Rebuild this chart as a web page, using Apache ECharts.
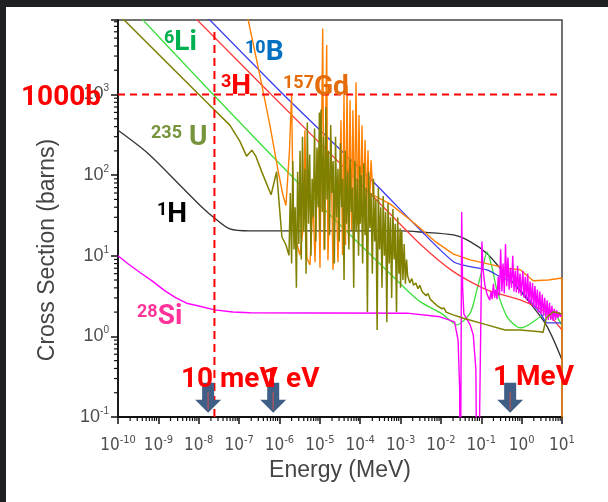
<!DOCTYPE html>
<html><head><meta charset="utf-8">
<script src="https://cdn.jsdelivr.net/npm/echarts@6/dist/echarts.min.js"></script>
<style>html,body{margin:0;padding:0;background:#fff;}#c{width:608px;height:502px;}</style>
</head><body><div id="c"></div>
<script>
// ---------- axis ranges / ticks ----------
const xMin = 1e-10, xMax = 10, yMin = 0.1, yMax = 8400;
const xDecades = [-10, -9, -8, -7, -6, -5, -4, -3, -2, -1, 0];
const yDecades = [-1, 0, 1, 2, 3];
const minorMultipliers = [2, 3, 4, 5, 6, 7, 8, 9];

// ---------- cross-section curves [Energy (MeV), sigma (barns)] ----------
const h1 = [[1e-10,361],[5.55e-10,186],[3.74e-9,71.8],[1.17e-8,40.6],[2.5e-8,29.1],[5.9e-8,21.5],[1.85e-7,20.3],[1e-3,20.3],[3.05e-3,19.7],[0.0205,18.1],[0.053,15],[0.138,10.7],[0.294,7.0],[0.63,4.56],[1.63,2.58],[4.25,1.33],[10,0.51]];

const li6 = [[1e-10,18000],[2.28e-8,1000],[8.4e-6,46.8],[1.43e-3,3.77],[3.05e-3,2.70],[0.0116,1.85],[0.0248,1.39],[0.053,1.94],[0.0778,3.77],[0.115,8.07],[0.138,11.2],[0.183,7.3],[0.244,3.77],[0.431,1.76],[0.764,1.32],[1.02,1.28],[3.19,1.8],[5.65,2.02],[10,1.35]];

const h3 = [[1e-9,25700],[6.25e-7,1000],[2.12e-4,54],[3.05e-3,14],[0.0205,6.35],[0.138,3.77],[0.92,2.84],[4.25,1.94],[10,1.2]];

const b10 = [[1e-9,37800],[1.25e-6,1000],[1.75e-4,91],[3.05e-3,21],[0.0205,8.45],[0.053,7.33],[0.138,6.67],[0.294,5.5],[0.62,4.6],[2.9,1.96],[4.3,1.47],[10,1.47]];

const gd157 = [[1e-10,3e5],[7.6e-8,61000],[1.68e-7,8400],[3.27e-7,1730],[5.8e-7,416],[9.2e-7,115],[1.22e-6,56.6],[1.45e-6,42],[1.77e-6,204],[2.0e-6,1000],[2.16e-6,49],[2.56e-6,15.7],[3.21e-6,10.2],[3.82e-6,20.8],[4.28e-6,361],[4.8e-6,9.3],[5.7e-6,7.7],[6.8e-6,49],[7.6e-6,8.3],[9.0e-6,204],[1.01e-5,7.1],[1.18e-5,6600],[1.27e-5,11.7],[1.48e-5,4100],[1.59e-5,8.8],[1.89e-5,272],[2.12e-5,6.7],[2.52e-5,87],[2.82e-5,8.3],[3.35e-5,480],[3.65e-5,10.2],[3.97e-5,1000],[4.33e-5,13.6],[4.72e-5,1300],[5.14e-5,15.7],[5.6e-5,850],[6.1e-5,20.8],[6.6e-5,640],[7.2e-5,27.7],[7.9e-5,1420],[8.6e-5,24],[9.35e-5,555],[1.02e-4,27.7],[1.11e-4,417],[1.21e-4,32],[1.32e-4,272],[1.44e-4,35],[1.56e-4,204],[1.70e-4,39],[1.86e-4,153],[2.08e-4,56.6],[2.33e-4,58],[5.5e-4,44],[1.72e-3,28],[3.05e-3,22],[7e-3,15.2],[0.0205,10.5],[0.053,8.9],[0.138,8.0],[0.39,7.07],[0.92,6.7],[1.94,4.9],[4.57,5.0],[10,5.3],[10,0.001]];

const u235 = [[1e-10,10000],[2.07e-8,701],[5.9e-8,417],[1.04e-7,264],[1.53e-7,172],[2.07e-7,204],[2.6e-7,172],[3.67e-7,109],[6.2e-7,57],[8.5e-7,110],[9.7e-7,48.7],[1.15e-6,17.1],[1.45e-6,13.6],[1.72e-6,10.1],
 [1.86e-6,60],[2.00e-6,8],[2.14e-6,150],[2.29e-6,12],[2.45e-6,40],[2.63e-6,4],[2.82e-6,110],[3.02e-6,14],[3.24e-6,200],[3.47e-6,9],[3.72e-6,300],[3.98e-6,20],[4.27e-6,120],[4.57e-6,6],[4.90e-6,450],[5.25e-6,25],[5.62e-6,180],[6.03e-6,10],[6.46e-6,90],[6.92e-6,30],[7.41e-6,380],[7.94e-6,15],[8.51e-6,220],[9.12e-6,40],[9.77e-6,600],
 [1.00e-5,20],[1.07e-5,650],[1.15e-5,35],[1.23e-5,300],[1.32e-5,12],[1.41e-5,700],[1.51e-5,50],[1.62e-5,200],[1.74e-5,18],[1.86e-5,420],[2.00e-5,60],[2.14e-5,150],[2.29e-5,8],[2.45e-5,300],[2.63e-5,30],[2.82e-5,120],[3.02e-5,15],[3.24e-5,250],[3.47e-5,40],[3.72e-5,90],[3.98e-5,5],[4.27e-5,200],[4.57e-5,25],[4.90e-5,110],[5.25e-5,12],[5.62e-5,160],[6.03e-5,35],[6.46e-5,70],[6.92e-5,4],[7.41e-5,150],[7.94e-5,20],[8.51e-5,90],[9.12e-5,10],[9.77e-5,130],
 [1.00e-4,25],[1.07e-4,100],[1.15e-4,8],[1.23e-4,140],[1.32e-4,18],[1.41e-4,70],[1.51e-4,2],[1.62e-4,110],[1.74e-4,22],[1.86e-4,60],[2.00e-4,6],[2.14e-4,90],[2.29e-4,15],[2.45e-4,50],[2.63e-4,1.2],[2.82e-4,70],[3.02e-4,12],[3.24e-4,40],[3.47e-4,4],[3.72e-4,55],[3.98e-4,10],[4.27e-4,35],[4.57e-4,1.5],[4.90e-4,45],[5.25e-4,8],[5.62e-4,30],[6.03e-4,3],[6.46e-4,38],[6.92e-4,9],[7.41e-4,25],[7.94e-4,2],[8.51e-4,30],[9.12e-4,6],[9.77e-4,22],
 [1.00e-3,4],[1.07e-3,20],[1.15e-3,5],[1.23e-3,14],[1.32e-3,4.5],[1.41e-3,9],
 [1.5e-3,5.6],[1.7e-3,4.6],[1.9e-3,5.2],[2.1e-3,4.3],[2.4e-3,4.6],[2.7e-3,3.9],[3.0e-3,4.3],[3.4e-3,3.6],[3.8e-3,3.8],[4.3e-3,3.2],[4.8e-3,3.4],[5.4e-3,2.9],[6.0e-3,3.0],[6.8e-3,2.6],[7.6e-3,2.7],[8.5e-3,2.35],[9.5e-3,2.45],[0.0107,2.2],[0.012,2.25],[0.0135,2.0],[0.015,2.05],[0.02,1.85],
 [0.0362,1.68],[0.138,1.39],[0.39,1.2],[0.92,1.2],[2.9,1.14],[3.4,1.12],[4.08,1.7],[6.1,2.02],[10,1.9]];

const si28 = [[1e-10,10],[1.8e-10,7.9],[3.5e-10,6.2],[7.4e-10,4.78],[1.4e-9,3.72],[2.6e-9,3.05],[5e-9,2.58],[1e-8,2.38],[2.5e-8,2.13],[7e-8,2.01],[1.85e-7,1.96],[1.45e-3,1.94],[9.5e-3,1.75],[0.0218,1.51],[0.0266,0.9],[0.0292,0.22],[0.0300,0.001],[0.0327,35],[0.0345,4.0],[0.037,1.9],[0.053,1.39],[0.0634,1.04],[0.0735,0.39],[0.0805,0.001],[0.1035,15],[0.111,6.67],[0.123,4.3],[0.140,3.3],
 [0.151,3.2],[0.162,2.8],[0.174,3.6],[0.186,2.9],[0.200,4.5],[0.214,3.0],[0.229,3.8],[0.245,2.9],[0.263,5.5],[0.282,3.2],[0.302,12],[0.324,3.6],[0.347,8],[0.372,3.4],[0.398,14],[0.427,4.2],[0.457,9.5],[0.490,3.8],[0.525,7],[0.562,4],[0.603,10],[0.646,3.6],[0.692,6.5],[0.741,3.5],[0.794,7.5],[0.851,3.4],[0.912,6],[0.977,3.2],
 [1.07,6.5],[1.15,3.0],[1.23,5.5],[1.32,2.8],[1.41,6.0],[1.51,2.6],[1.62,4.8],[1.74,2.5],[1.86,4.6],[2.00,2.3],[2.14,4.2],[2.29,2.2],[2.45,3.8],[2.63,2.0],[2.82,3.6],[3.02,1.9],[3.24,3.3],[3.47,1.8],[3.72,3.0],[3.98,1.7],[4.27,2.8],[4.57,1.6],[4.90,2.6],[5.25,1.6],[5.62,2.4],[6.03,1.55],[6.46,2.2],[6.92,1.6],[7.41,2.1],[7.94,1.7],[8.51,2.0],[9.12,1.75],[9.77,1.9]];

// ---------- annotations ----------
const refSigma = 1000;            // "1000b" horizontal line
const thermalEnergy = 2.45e-8;    // vertical dashed line (MeV)
const thermalTop = 6600;
const arrowEnergies = [1.71e-8, 7.0e-7, 0.52];
const arrowSigma = 0.173;
const arrowMarkSigma = 0.159;

// ---------- helpers ----------
const xMinorTicks = [];
xDecades.forEach(d => minorMultipliers.forEach(m => { const v = m * Math.pow(10, d); if (v < xMax) xMinorTicks.push([v, yMin]); }));
const yMinorTicks = [];
yDecades.forEach(d => minorMultipliers.forEach(m => { const v = m * Math.pow(10, d); if (v < yMax) yMinorTicks.push([xMin, v]); }));

function expFormatter(v) {
  const l = Math.log10(v), e = Math.round(l);
  if (Math.abs(l - e) > 1e-6) return '';
  return '{b|10}{s|' + e + '}';
}
const narrow = '"Liberation Sans Narrow","DejaVu Sans Condensed","Liberation Sans",sans-serif';
const sansF = '"Liberation Sans",Arial,sans-serif';
const labelFont = 'Roboto,"Liberation Sans",sans-serif';

function line(name, data, color, width, opts) {
  return Object.assign({
    type: 'line', name, data, showSymbol: false, symbol: 'none', silent: true,
    lineStyle: { color, width }, clip: true, z: 2
  }, opts || {});
}

function isoLabel(sup, main, color, x, baseline, F, FS) {
  F = F || 28; FS = FS || 18;
  return {
    type: 'text', x: x, y: baseline - 0.842 * F, z: 100, silent: true,
    style: {
      text: '{s|' + sup + '}{m|' + main + '}', align: 'left', verticalAlign: 'top',
      rich: {
        s: { fontSize: FS, fontWeight: 'bold', fontFamily: labelFont, fill: color, lineHeight: FS, verticalAlign: 'top' },
        m: { fontSize: F, fontWeight: 'bold', fontFamily: labelFont, fill: color, lineHeight: F }
      }
    }
  };
}
function redText(txt, x, baseline, F) {
  F = F || 28;
  return {
    type: 'text', x: x, y: baseline - 0.842 * F, z: 100, silent: true,
    style: { text: txt, align: 'left', verticalAlign: 'top', fontSize: F, lineHeight: F, fontWeight: 'bold', fontFamily: labelFont, fill: '#ff0000' }
  };
}

const chart = echarts.init(document.getElementById('c'), null, { renderer: 'canvas' });
chart.setOption({
  animation: false,
  backgroundColor: '#ffffff',
  grid: { left: 118, right: 46, top: 20, bottom: 85, show: true, borderColor: '#444', borderWidth: 1.5, backgroundColor: 'transparent' },
  xAxis: {
    type: 'log', logBase: 10, min: xMin, max: xMax, interval: 1,
    name: 'Energy (MeV)', nameLocation: 'middle', nameGap: 42,
    nameTextStyle: { fontSize: 23, color: '#444', fontFamily: sansF },
    axisLine: { show: true, onZero: false, lineStyle: { color: '#111', width: 2 } },
    axisTick: { show: true, inside: false, length: 7, lineStyle: { color: '#111', width: 1.5 } },
    minorTick: { show: false },
    splitLine: { show: false },
    axisLabel: {
      margin: 18, formatter: expFormatter, showMaxLabel: true, showMinLabel: true,
      rich: {
        b: { fontSize: 17, lineHeight: 22, fontFamily: narrow, color: '#4d4d4d' },
        s: { fontSize: 11, lineHeight: 11, fontFamily: narrow, color: '#4d4d4d', verticalAlign: 'top' }
      }
    }
  },
  yAxis: {
    type: 'log', logBase: 10, min: yMin, max: yMax, interval: 1,
    axisLine: { show: true, onZero: false, lineStyle: { color: '#111', width: 1.8 } },
    axisTick: { show: true, inside: false, length: 7, lineStyle: { color: '#111', width: 1.5 } },
    minorTick: { show: false },
    splitLine: { show: false },
    axisLabel: {
      margin: 9, formatter: expFormatter,
      rich: {
        b: { fontSize: 18, lineHeight: 22, fontFamily: sansF, color: '#4d4d4d' },
        s: { fontSize: 10, lineHeight: 10, fontFamily: sansF, color: '#4d4d4d', verticalAlign: 'top' }
      }
    }
  },
  graphic: [
    { type: 'rect', shape: { x: 0, y: 0, width: 608, height: 7 }, style: { fill: '#1e2023' }, z: 200, silent: true },
    { type: 'rect', shape: { x: 0, y: 0, width: 6, height: 502 }, style: { fill: '#1e2023' }, z: 200, silent: true },
    { type: 'text', x: 48, y: 250, rotation: Math.PI / 2, silent: true,
      style: { text: 'Cross Section (barns)', align: 'center', verticalAlign: 'middle', fontSize: 23, fontFamily: sansF, fill: '#444' } },
    isoLabel('6', 'Li', '#00b050', 164, 53),
    isoLabel('10', 'B', '#0070c0', 245, 63),
    isoLabel('3', 'H', '#ff0000', 221, 97),
    isoLabel('157', 'Gd', '#e46c0a', 283, 98),
    isoLabel('235', ' U', '#77933c', 151, 148),
    isoLabel('1', 'H', '#000000', 157, 225),
    isoLabel('28', 'Si', '#ff3399', 137, 327),
    redText('1000b', 21, 108),
    redText('10 meV', 181, 390),
    redText('1 eV', 263, 390),
    redText('1 MeV', 493, 388)
  ],
  series: [
    line('1H', h1, '#333333', 1.3, { smooth: 0.3 }),
    line('6Li', li6, '#3be03b', 1.3, { smooth: 0.25 }),
    line('3He', h3, '#ff3b3b', 1.3, { smooth: 0.25 }),
    line('10B', b10, '#3a3af2', 1.3, { smooth: 0.25 }),
    line('157Gd', gd157, '#ff8000', 1.4),
    line('28Si', si28, '#ff00ff', 1.4),
    line('235U', u235, '#808000', 1.5),
    line('ref1000', [[xMin, refSigma], [xMax, refSigma]], '#ff0000', 2, { lineStyle: { color: '#ff0000', width: 2, type: [7, 5] }, z: 5 }),
    line('thermal', [[thermalEnergy, yMin], [thermalEnergy, thermalTop]], '#ff0000', 2, { lineStyle: { color: '#ff0000', width: 2, type: [8, 5] }, z: 5 }),
    { type: 'scatter', silent: true, z: 20, data: arrowEnergies.map(e => [e, arrowSigma]),
      symbol: 'path://M7,0 L19,0 L19,17 L26,17 L13,30 L0,17 L7,17 Z', symbolSize: [26, 30],
      itemStyle: { color: '#3f5f86', opacity: 1 } },
    { type: 'scatter', silent: true, z: 21, data: arrowEnergies.map(e => [e, arrowMarkSigma]),
      symbol: 'rect', symbolSize: [1.3, 18], itemStyle: { color: '#d05050' } },
    { type: 'custom', silent: true, clip: false, z: 10, data: xMinorTicks,
      renderItem: (p, api) => { const c = api.coord([api.value(0), api.value(1)]);
        return { type: 'line', shape: { x1: c[0], y1: c[1], x2: c[0], y2: c[1] + 4 }, style: { stroke: '#111', lineWidth: 1.2 } }; } },
    { type: 'custom', silent: true, clip: false, z: 10, data: yMinorTicks,
      renderItem: (p, api) => { const c = api.coord([api.value(0), api.value(1)]);
        return { type: 'line', shape: { x1: c[0], y1: c[1], x2: c[0] - 4, y2: c[1] }, style: { stroke: '#111', lineWidth: 1.2 } }; } }
  ]
});
</script></body></html>
